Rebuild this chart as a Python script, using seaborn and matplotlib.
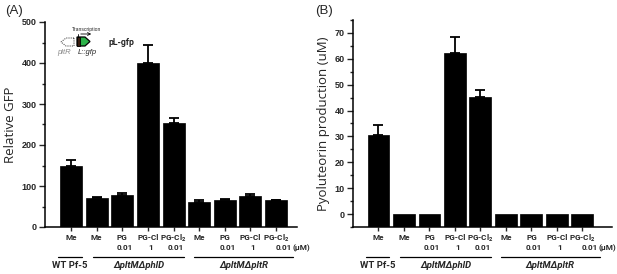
import numpy as np
import pandas as pd
import matplotlib
matplotlib.use("Agg")
import matplotlib.pyplot as plt
import matplotlib.transforms as mtransforms
from matplotlib.patches import Polygon
from matplotlib.ticker import MultipleLocator
import seaborn as sns

# data
treatments = ["Me", "Me", "PG", "PG-Cl", "PG-Cl$_2$", "Me", "PG", "PG-Cl", "PG-Cl$_2$"]
doses = ["", "", "0.01", "1", "0.01", "", "0.01", "1", "0.01"]
strains = ["WT Pf-5", "\u0394pltM\u0394phlD", "\u0394pltM\u0394pltR"]
gfp_mean = [148, 70, 79, 400, 253, 62, 67, 76, 65]
gfp_err = [15, 2, 4, 43, 12, 4, 1, 5, 2]
plt_mean = [30.5, 0, 0, 62.3, 45.3, 0, 0, 0, 0]
plt_err = [4, 0, 0, 6, 2.5, 0, 0, 0, 0]

sns.set_theme(style="ticks")
plt.rcParams["font.family"] = ["Liberation Sans", "DejaVu Sans"]
plt.rcParams["mathtext.fontset"] = "custom"
plt.rcParams["mathtext.rm"] = "Roboto:bold"
lab_font = ["Roboto", "DejaVu Sans"]
lab_size = 5.9

fig = plt.figure(figsize=(6.17, 2.74), dpi=100)
axA = fig.add_axes([45 / 617, 47 / 274, 252 / 617, 205 / 274])
axB = fig.add_axes([353 / 617, 47 / 274, 259 / 617, 207 / 274])


def draw_panel(ax, mean, err, ylim, major, minor, ylabel, xlim, spans):
    df = pd.DataFrame({"pos": range(len(mean)), "val": mean})
    sns.barplot(data=df, x="pos", y="val", color="black", saturation=1,
                width=0.86, edgecolor="black", linewidth=0.5, errorbar=None, ax=ax)
    # bars start at the bottom of the axis (Origin style)
    base = ylim[0]
    for p in ax.patches:
        h = p.get_height()
        p.set_y(base)
        p.set_height(h - base)
    x = np.arange(len(mean))
    e = np.array(err, dtype=float)
    m = e > 0
    ax.errorbar(x[m], np.array(mean)[m], yerr=[np.zeros(m.sum()), e[m]], fmt="none",
                ecolor="black", elinewidth=1.3, capsize=3.5, capthick=1.3)
    ax.set_ylim(*ylim)
    ax.set_xlim(*xlim)
    ax.yaxis.set_major_locator(MultipleLocator(major))
    ax.yaxis.set_minor_locator(MultipleLocator(minor))
    ax.set_xticks(x)
    ax.set_xticklabels([""] * len(x))
    ax.set_xlabel("")
    ax.set_ylabel(ylabel, fontsize=9.5, labelpad=3, family=["Open Sans", "DejaVu Sans"])
    ax.tick_params(axis="y", which="major", length=4, width=1, labelsize=6.5, pad=2)
    ax.tick_params(axis="y", which="minor", length=2, width=1)
    ax.tick_params(axis="x", which="major", length=3, width=1)
    for lab in ax.get_yticklabels():
        lab.set_fontweight("bold")
    sns.despine(ax=ax)
    for s in ("left", "bottom"):
        ax.spines[s].set_linewidth(1.1)
        ax.spines[s].set_color("black")

    tr = mtransforms.blended_transform_factory(ax.transData, fig.transFigure)
    for i, t in enumerate(treatments):
        ax.text(i, 1 - 238 / 274, t, transform=tr, ha="center", va="center",
                fontsize=lab_size, fontweight="bold", family=lab_font)
    for i, d in enumerate(doses):
        if d:
            xi = i + 0.3 if i == len(doses) - 1 else i + 0.1
            ax.text(xi, 1 - 248 / 274, d, transform=tr, ha="center", va="center",
                    fontsize=lab_size, fontweight="bold", family=lab_font)
    ax.text(len(doses) - 1 + 0.64, 1 - 248 / 274, "(\u00b5M)", transform=tr,
            ha="left", va="center", fontsize=lab_size, fontweight="bold", family=lab_font)
    for name, (a, b) in zip(strains, spans):
        ax.plot([a, b], [1 - 257 / 274] * 2, transform=tr, color="black",
                lw=0.9, clip_on=False)
        style = "normal" if name.startswith("WT") else "italic"
        ax.text((a + b) / 2, 1 - 266 / 274, name, transform=tr, ha="center",
                va="center", fontsize=6.8, fontweight="bold", fontstyle=style,
                family=lab_font)


draw_panel(axA, gfp_mean, gfp_err, (0, 500), 100, 50, "Relative GFP",
           (-1.02, 8.82), [(-0.5, 0.43), (0.86, 4.41), (4.8, 8.67)])
draw_panel(axB, plt_mean, plt_err, (-5, 75), 10, 5, "Pyoluteorin production (uM)",
           (-1.0, 9.16), [(-0.5, 0.43), (0.86, 4.41), (4.8, 8.67)])

fig.text(5 / 617, 1 - 11 / 274, "(A)", fontsize=9.5, va="center", ha="left")
fig.text(315 / 617, 1 - 11 / 274, "(B)", fontsize=9.5, va="center", ha="left")

# promoter schematic in panel A
ins = fig.add_axes([50 / 617, 1 - 60 / 274, 100 / 617, 35 / 274])
ins.set_xlim(50, 150)
ins.set_ylim(60, 25)
ins.axis("off")
ins.add_patch(Polygon([[74, 38], [66, 38], [61, 42], [66, 46], [74, 46]], closed=True,
                      fill=False, ls=(0, (1, 1)), lw=0.8, ec="#555555"))
ins.add_patch(Polygon([[77, 37], [85, 37], [90, 41.5], [85, 46], [77, 46]], closed=True,
                      fc="#2db34a", ec="black", lw=0.9))
ins.add_patch(Polygon([[77, 37], [80, 37], [80, 46], [77, 46]], closed=True,
                      fc="#3b1e10", ec="black", lw=0.6))
ins.plot([78, 78], [37, 34], color="black", lw=0.6)
ins.annotate("", xy=(94, 34), xytext=(78, 34),
             arrowprops=dict(arrowstyle="->", lw=0.6, color="black", mutation_scale=5))
ins.text(87, 29.5, "Transcription", fontsize=3.6, ha="center", va="center")
ins.text(64, 52.5, "pltR", fontsize=5.5, color="#888888", style="italic", ha="center", va="center")
ins.text(87, 52.5, "L::gfp", fontsize=5.5, style="italic", ha="center", va="center")
ins.text(121, 42.5, "pL-gfp", fontsize=6.3, fontweight="bold", ha="center", va="center",
         family=lab_font)

fig.savefig("out.png", dpi=100)
